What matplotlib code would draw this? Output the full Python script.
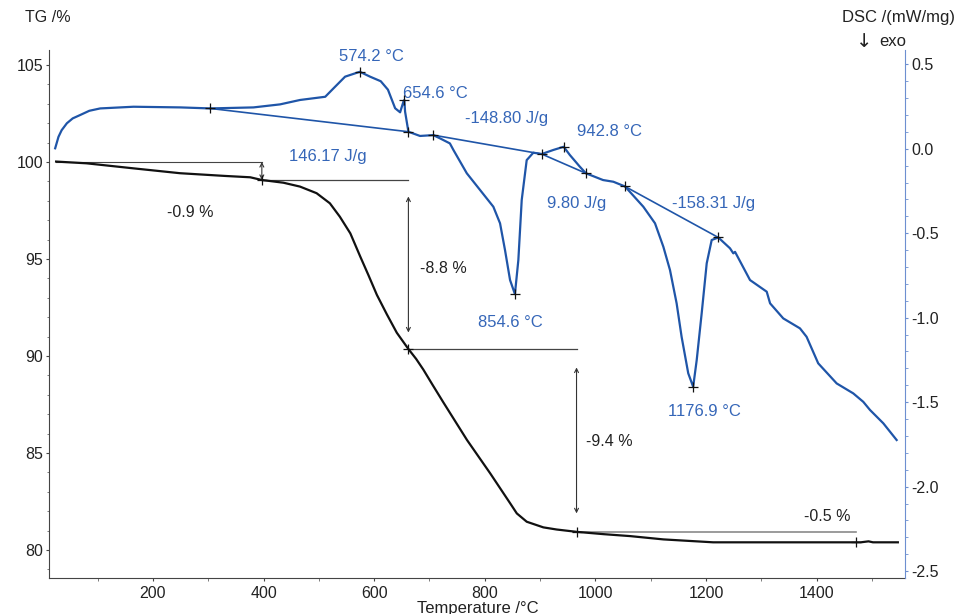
import matplotlib
matplotlib.use("Agg")
import matplotlib.pyplot as plt
from matplotlib.ticker import MultipleLocator, FormatStrFormatter

plt.rcParams['font.family'] = ['Liberation Sans', 'DejaVu Sans']
plt.rcParams['axes.unicode_minus'] = False

# ---------------- data ----------------
tg_temp = [25, 80, 165, 249, 330, 376, 397, 436, 466, 496, 520, 538, 557, 575, 590,
           605, 623, 641, 662, 676, 689, 706, 725, 768, 810, 846, 858, 876, 906, 930, 966,
           1015, 1063, 1123, 1213, 1300, 1400, 1480, 1494, 1502, 1547]
tg_vals = [100.02, 99.93, 99.67, 99.42, 99.28, 99.21, 99.07, 98.93, 98.73, 98.39,
           97.87, 97.18, 96.32, 95.12, 94.15, 93.15, 92.15, 91.20, 90.36, 89.85,
           89.30, 88.50, 87.62, 85.67, 83.95, 82.41, 81.89, 81.46, 81.17, 81.06, 80.94,
           80.82, 80.72, 80.55, 80.40, 80.40, 80.40, 80.40, 80.45, 80.40, 80.40]

dsc_temp = [23.3, 29.3, 35, 44.4, 55, 68.5, 85, 104.7, 164.9, 250, 303.5, 381.8,
            430, 466, 511.6, 526.6, 547.5, 574.2, 592.7, 612, 625, 638, 647, 653,
            654.6, 656, 662, 683, 707, 719, 737, 743.4, 767.6, 791.6, 815.6, 827.7,
            836.7, 845.8, 854.6, 860.8, 866.9, 875.9, 887.9, 903, 924, 942.8, 954,
            972, 983, 1014, 1032.6, 1053.7, 1086.8, 1107.9, 1123, 1135, 1147, 1156,
            1168, 1176.9, 1183.3, 1192.3, 1201.4, 1210.4, 1222.4, 1243.5, 1249.5,
            1252.6, 1279.7, 1309.9, 1316, 1339.8, 1370, 1382, 1403, 1436.4, 1466.4,
            1484.5, 1496.6, 1520.7, 1544.8]
dsc_vals = [0.003, 0.071, 0.110, 0.151, 0.180, 0.200, 0.225, 0.239, 0.249, 0.245,
            0.239, 0.245, 0.263, 0.289, 0.308, 0.358, 0.427, 0.456, 0.427, 0.400,
            0.350, 0.240, 0.216, 0.279, 0.289, 0.220, 0.101, 0.076, 0.081, 0.062,
            0.032, -0.007, -0.145, -0.244, -0.343, -0.441, -0.600, -0.777, -0.860,
            -0.659, -0.303, -0.067, -0.023, -0.031, -0.007, 0.012, -0.037, -0.106,
            -0.145, -0.185, -0.195, -0.223, -0.343, -0.441, -0.580, -0.718, -0.915,
            -1.113, -1.329, -1.409, -1.251, -0.974, -0.678, -0.540, -0.525, -0.589,
            -0.619, -0.610, -0.777, -0.846, -0.915, -1.004, -1.063, -1.113, -1.270,
            -1.389, -1.448, -1.498, -1.546, -1.625, -1.724]

# DSC evaluation points (markers) and baselines between them
dsc_mark_temp = [303.5, 574.2, 654.6, 662, 707, 854.6, 903, 942.8, 983, 1053.7, 1176.9, 1222.4]
dsc_mark_vals = [0.239, 0.456, 0.289, 0.101, 0.081, -0.860, -0.031, 0.012, -0.145, -0.223, -1.409, -0.525]
dsc_baselines = [(0, 3), (4, 6), (6, 8), (9, 11)]

# DSC annotations
dsc_labels = ["574.2 °C", "654.6 °C", "-148.80 J/g", "942.8 °C", "146.17 J/g",
              "9.80 J/g", "-158.31 J/g", "854.6 °C", "1176.9 °C"]
dsc_label_x = [596, 652, 840, 1026, 517, 967, 1213, 847, 1197]
dsc_label_y = [0.545, 0.330, 0.182, 0.105, -0.043, -0.321, -0.321, -1.03, -1.553]
dsc_label_ha = ['center', 'left', 'center', 'center', 'center', 'center', 'center', 'center', 'center']

# TG mass-loss steps
tg_step_temp = [25, 397, 662, 966, 1472]
tg_step_level = [100.0, 99.07, 90.36, 80.94, 80.40]
tg_step_labels = ["-0.9 %", "-8.8 %", "-9.4 %", "-0.5 %"]
tg_label_x = [268, 683, 983, 1419]
tg_label_y = [97.4, 94.5, 85.6, 81.75]
tg_label_ha = ['center', 'left', 'left', 'center']

x_ticks = [200, 400, 600, 800, 1000, 1200, 1400]
tg_ticks = [80, 85, 90, 95, 100, 105]
dsc_ticks = [-2.5, -2.0, -1.5, -1.0, -0.5, 0.0, 0.5]

# ---------------- figure ----------------
BLUE = '#1f55a8'
TBLUE = '#3566b8'
TXT = '#222222'
RSP = '#6d8fd0'

fig = plt.figure(figsize=(9.57, 6.14), dpi=100)
ax = fig.add_axes([0.0517, 0.0586, 0.894, 0.86])
ax2 = ax.twinx()

ax.set_xlim(13, 1560)
ax.set_ylim(78.56, 105.77)
ax2.set_ylim(-2.541, 0.585)

# curves
ax.plot(tg_temp, tg_vals, color='#111111', lw=1.6, zorder=3)
ax2.plot(dsc_temp, dsc_vals, color=BLUE, lw=1.6, zorder=3)

# DSC baselines and markers
for i, j in dsc_baselines:
    ax2.plot([dsc_mark_temp[i], dsc_mark_temp[j]], [dsc_mark_vals[i], dsc_mark_vals[j]],
             color=BLUE, lw=1.2, zorder=3)
ax2.plot(dsc_mark_temp, dsc_mark_vals, ls='none', marker='+', ms=7, mew=0.9,
         color='#111111', zorder=4)
for t, x, y, ha in zip(dsc_labels, dsc_label_x, dsc_label_y, dsc_label_ha):
    ax2.text(x, y, t, color=TBLUE, fontsize=12, ha=ha, va='center')

# TG step annotations
LC = '#444444'
ax.plot([tg_step_temp[0], tg_step_temp[1]], [tg_step_level[0]] * 2, color=LC, lw=0.8)
for k in range(1, 4):
    ax.plot([tg_step_temp[k], tg_step_temp[k + 1]], [tg_step_level[k]] * 2,
            color=LC if k < 3 else '#8a8a8a', lw=0.9 if k < 3 else 1.2)
arr = dict(arrowstyle='<->', color='#333333', lw=0.8, shrinkA=0, shrinkB=0,
           mutation_scale=7)
ax.annotate('', xy=(tg_step_temp[1], tg_step_level[1]), xytext=(tg_step_temp[1], tg_step_level[0]),
            arrowprops=arr)
ax.annotate('', xy=(tg_step_temp[2], tg_step_level[2] + 0.85), xytext=(tg_step_temp[2], tg_step_level[1] - 0.85),
            arrowprops=arr)
ax.annotate('', xy=(tg_step_temp[3], tg_step_level[3] + 0.95), xytext=(tg_step_temp[3], tg_step_level[2] - 0.95),
            arrowprops=arr)
ax.plot(tg_step_temp[1:], tg_step_level[1:], ls='none', marker='+', ms=7, mew=0.9,
        color='#111111', zorder=4)
for t, x, y, ha in zip(tg_step_labels, tg_label_x, tg_label_y, tg_label_ha):
    ax.text(x, y, t, color=TXT, fontsize=11.5, ha=ha, va='center')

# axes styling
ax.set_xticks(x_ticks)
ax.xaxis.set_minor_locator(MultipleLocator(100))
ax.set_yticks(tg_ticks)
ax.yaxis.set_minor_locator(MultipleLocator(1))
ax2.set_yticks(dsc_ticks)
ax2.yaxis.set_minor_locator(MultipleLocator(0.1))
ax2.yaxis.set_major_formatter(FormatStrFormatter('%.1f'))

for a in (ax, ax2):
    a.spines['top'].set_visible(False)
ax.spines['right'].set_visible(False)
ax2.spines['left'].set_visible(False)
ax2.spines['bottom'].set_visible(False)
ax.spines['left'].set_color('#444444')
ax.spines['bottom'].set_color('#444444')
ax2.spines['right'].set_color(RSP)

ax.tick_params(axis='both', which='major', direction='out', length=2.5, width=0.8,
               colors='#444444', labelcolor=TXT, labelsize=11.5)
ax.tick_params(axis='both', which='minor', direction='out', length=1.8, width=0.6,
               colors='#666666')
ax.tick_params(axis='x', pad=3)
ax.tick_params(axis='y', pad=2)
ax2.tick_params(axis='y', which='major', direction='out', length=2.5, width=0.8,
                colors=RSP, labelcolor=TXT, labelsize=11.5, pad=2)
ax2.tick_params(axis='y', which='minor', direction='out', length=1.8, width=0.6,
                colors=RSP)

# axis titles
fig.text(0.026, 0.971, "TG /%", fontsize=11.5, color=TXT, ha='left', va='center')
fig.text(0.998, 0.971, "DSC /(mW/mg)", fontsize=12, color=TXT, ha='right', va='center')
fig.text(0.903, 0.932, "↓", fontsize=14, color=TXT, ha='center', va='center',
         family=['DejaVu Sans'])
fig.text(0.919, 0.932, "exo", fontsize=12, color=TXT, ha='left', va='center')
fig.text(0.4995, 0.0215, "Temperature /°C", fontsize=12, color=TXT, ha='center', va='top')

fig.savefig("out.png", dpi=100)
